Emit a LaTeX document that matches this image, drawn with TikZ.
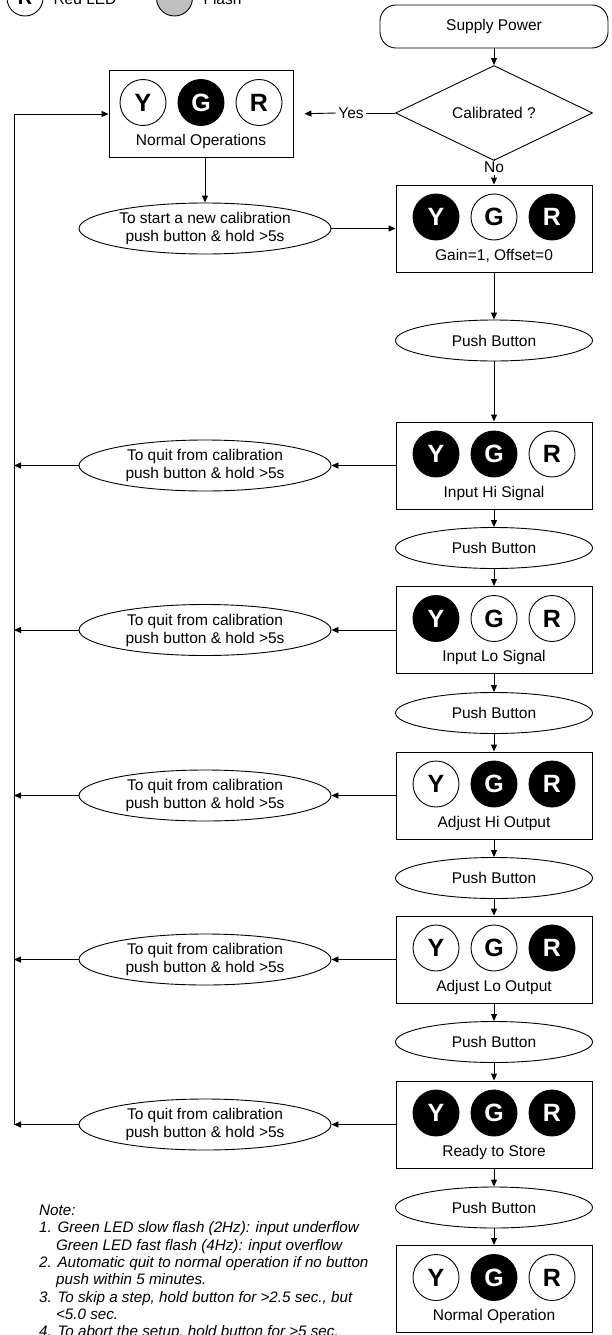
\documentclass[tikz,border=0pt]{standalone}
\usepackage{fontspec}
\setmainfont{Liberation Sans}
\usetikzlibrary{shapes.geometric,arrows.meta,positioning}

\tikzset{
  flow/.style={line width=0.9pt},
  arr/.style={flow,-{Triangle[length=7pt,width=6pt]}},
  statebox/.style={draw,flow,minimum width=196pt,minimum height=87pt,inner sep=0pt},
  ledon/.style={circle,draw,flow,fill=black,text=white,minimum size=46pt,inner sep=0pt,font=\fontsize{25}{25}\selectfont\bfseries},
  ledoff/.style={ledon,fill=white,text=black},
  pushbtn/.style={ellipse,draw,flow,minimum width=197pt,minimum height=41pt,inner sep=0pt},
  holdbtn/.style={ellipse,draw,flow,minimum width=252pt,minimum height=51pt,inner sep=0pt,align=center},
}

\begin{document}
\begin{tikzpicture}[x=1pt,y=-1pt,font=\fontsize{15.5}{18}\selectfont]
  \useasboundingbox (0,0) rectangle (612,1335);
  \clip (0,0) rectangle (612,1335);
  \def\ledbox#1#2#3#4#5#6#7{%
    \node[statebox,#2] (#1) at #3 {};
    \node[#5] (#1-y) at ([xshift=-58pt,yshift=11.5pt]#1.center) {Y};
    \node[#6] (#1-g) at ([yshift=11.5pt]#1.center) {G};
    \node[#7] (#1-r) at ([xshift=58pt,yshift=11.5pt]#1.center) {R};
    \node (#1-txt) at ([yshift=-27.5pt]#1.center) {#4};}

  % legend (cut at the top)
  \node[circle,draw,flow,minimum size=36pt,inner sep=0pt,font=\fontsize{20}{20}\selectfont\bfseries] (key-r) at (25,-2) {R};
  \node[anchor=base west] (key-rt) at (50,5) {Red LED};
  \node[circle,draw,flow,fill=black!25,minimum size=36pt] (key-f) at (174.5,-2) {};
  \node[anchor=base west] (key-ft) at (200,5) {Flash};

  \node[draw,flow,rounded corners=16pt,minimum width=228pt,minimum height=43pt] (power) at (494,26.5) {Supply Power};
  \node[diamond,draw,flow,minimum width=197pt,minimum height=68pt,inner sep=0pt] (calib) at (494,113) {Calibrated ?};
  \node[inner sep=2pt] (yes) at (351,113) {Yes};
  \node[inner sep=2pt] (no) at (494,167) {No};

  \ledbox{normal}{minimum width=184pt}{(201,114)}{Normal Operations}{ledoff}{ledon}{ledoff}
  \node[holdbtn] (start) at (205,228.5) {To start a new calibration\\push button \& hold >5s};
  \ledbox{gain}{}{(494,228.5)}{Gain=1, Offset=0}{ledon}{ledoff}{ledon}
  \node[pushbtn] (pb1) at (494,340.5) {Push Button};
  \ledbox{hisig}{}{(494,465.5)}{Input Hi Signal}{ledon}{ledon}{ledoff}
  \node[pushbtn] (pb2) at (494,548) {Push Button};
  \ledbox{losig}{}{(494,630)}{Input Lo Signal}{ledon}{ledoff}{ledoff}
  \node[pushbtn] (pb3) at (494,713) {Push Button};
  \ledbox{hiout}{}{(494,795.5)}{Adjust Hi Output}{ledoff}{ledon}{ledon}
  \node[pushbtn] (pb4) at (494,878) {Push Button};
  \ledbox{loout}{}{(494,959.5)}{Adjust Lo Output}{ledoff}{ledoff}{ledon}
  \node[pushbtn] (pb5) at (494,1042) {Push Button};
  \ledbox{store}{}{(494,1124.5)}{Ready to Store}{ledon}{ledon}{ledon}
  \node[pushbtn] (pb6) at (494,1207.5) {Push Button};
  \ledbox{done}{}{(494,1289)}{Normal Operation}{ledoff}{ledon}{ledoff}

  \draw[arr] (power) -- (calib);
  \draw[flow] (calib.west) -- (yes.east);
  \draw[arr,shorten >=11pt] (yes.west) -- (normal.east);
  \draw[flow] (calib.south) -- (no.north);
  \draw[arr] (no.south) -- (gain.north);
  \draw[arr] (start.north |- normal.south) -- (start.north);
  \draw[arr] (start.east) -- (gain.west);
  \draw[arr] (gain) -- (pb1);
  \draw[arr] (pb1) -- (hisig);
  \draw[arr] (hisig) -- (pb2);
  \draw[arr] (pb2) -- (losig);
  \draw[arr] (losig) -- (pb3);
  \draw[arr] (pb3) -- (hiout);
  \draw[arr] (hiout) -- (pb4);
  \draw[arr] (pb4) -- (loout);
  \draw[arr] (loout) -- (pb5);
  \draw[arr] (pb5) -- (store);
  \draw[arr] (store) -- (pb6);
  \draw[arr] (pb6) -- (done);

  % way out of the calibration
  \coordinate (rail) at (14,1124.5);
  \coordinate (quitx) at (205,0);
  \draw[arr] (rail) |- (normal.west);
  \foreach \s/\q in {hisig/q1,losig/q2,hiout/q3,loout/q4,store/q5}{
    \node[holdbtn] (\q) at (\s -| quitx) {To quit from calibration\\push button \& hold >5s};
    \draw[arr] (\s.west) -- (\q.east);
    \draw[arr] (\q.west) -- (\q.west -| rail);
  }

  \node[anchor=north west,align=left,inner sep=0pt,font=\fontsize{15.2}{17.3}\selectfont\itshape] (note) at (39,1205) {Note:\\
    1. Green LED slow flash (2Hz): input underflow\\
    \phantom{1.}\ Green LED fast flash (4Hz): input overflow\\
    2. Automatic quit to normal operation if no button\\
    \phantom{2.}\ push within 5 minutes.\\
    3. To skip a step, hold button for >2.5 sec., but\\
    \phantom{3.}\ <5.0 sec.\\
    4. To abort the setup, hold button for >5 sec.};
\end{tikzpicture}
\end{document}
